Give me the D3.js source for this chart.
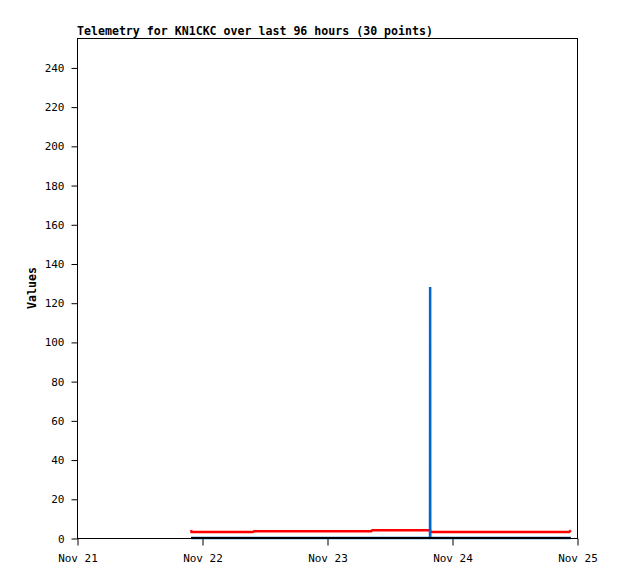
<!DOCTYPE html>
<html>
<head>
<meta charset="utf-8">
<script src="https://cdn.jsdelivr.net/npm/d3@7"></script>
<style>
  body { margin: 0; background: #fff; }
  text { font-family: "DejaVu Sans Mono", monospace; }
</style>
</head>
<body>
<script>
// sample times, hours after Nov 21 00:00 UTC
var hours = [21.9, 22.0, 25, 28, 31, 33.8, 34.0, 37, 40, 43,
             46, 49, 52, 55, 56.5, 56.7, 60, 63, 66, 67.78,
             67.8, 67.82, 71, 75, 79, 83, 87, 91, 94.5, 94.8];

// telemetry channels
var redValues = [4, 3, 3, 3, 3, 3, 3.5, 3.5, 3.5, 3.5,
                 3.5, 3.5, 3.5, 3.5, 3.5, 4, 4, 4, 4, 4,
                 3, 3, 3, 3, 3, 3, 3, 3, 3, 4];
var blueValues = [0, 0, 0, 0, 0, 0, 0, 0, 0, 0,
                  0, 0, 0, 0, 0, 0, 0, 0, 0, 0,
                  128, 0, 0, 0, 0, 0, 0, 0, 0, 0];
var blackValues = [0, 0, 0, 0, 0, 0, 0, 0, 0, 0,
                   0, 0, 0, 0, 0, 0, 0, 0, 0, 0,
                   0, 0, 0, 0, 0, 0, 0, 0, 0, 0];

var yTicks = [0, 20, 40, 60, 80, 100, 120, 140, 160, 180, 200, 220, 240];
var title = "Telemetry for KN1CKC over last 96 hours (30 points)";

var width = 618, height = 579;
var plotLeft = 77, plotRight = 577, plotTop = 38, plotBottom = 538;

var start = Date.UTC(2023, 10, 21);
var times = hours.map(function(h) { return new Date(start + h * 3600000); });

var svg = d3.select("body").append("svg")
    .attr("width", width)
    .attr("height", height);

var x = d3.scaleUtc()
    .domain([new Date(start), new Date(start + 96 * 3600000)])
    .range([plotLeft, plotRight]);

var y = d3.scaleLinear()
    .domain([0, 255])
    .range([plotBottom, plotTop]);

// frame
svg.append("rect")
    .attr("x", plotLeft + 0.5)
    .attr("y", plotTop + 0.5)
    .attr("width", plotRight - plotLeft)
    .attr("height", plotBottom - plotTop)
    .attr("fill", "none")
    .attr("stroke", "#000")
    .attr("stroke-width", 1);

var xAxis = svg.append("g")
    .attr("transform", "translate(0.5," + (plotBottom + 0.5) + ")")
    .call(d3.axisBottom(x)
        .ticks(d3.utcDay.every(1))
        .tickFormat(d3.utcFormat("%b %d"))
        .tickSize(7)
        .tickSizeOuter(0));

var yAxis = svg.append("g")
    .attr("transform", "translate(" + (plotLeft + 0.5) + ",0.5)")
    .call(d3.axisLeft(y)
        .tickValues(yTicks)
        .tickSize(6)
        .tickSizeOuter(0));

svg.selectAll(".domain").remove();
svg.selectAll(".tick line").attr("stroke", "#000");
svg.selectAll(".tick text")
    .attr("fill", "#000")
    .style("font-family", "'DejaVu Sans Mono', monospace")
    .style("font-size", "11px");
xAxis.selectAll(".tick text").attr("dy", "1.25em");
yAxis.selectAll(".tick text").attr("x", -13);

// data lines
var series = [
    {values: redValues, color: "#ff0000", w: 2.5},
    {values: blueValues, color: "#0066cc", w: 2.5},
    {values: blackValues, color: "#000000", w: 2}
];

var line = d3.line()
    .x(function(d) { return x(d[0]); })
    .y(function(d) { return y(d[1]); });

series.forEach(function(s) {
    svg.append("path")
        .datum(times.map(function(t, i) { return [t, s.values[i]]; }))
        .attr("d", line)
        .attr("fill", "none")
        .attr("stroke", s.color)
        .attr("stroke-width", s.w);
});

svg.append("text")
    .attr("x", plotLeft)
    .attr("y", 35)
    .style("font-size", "11.6px")
    .style("font-weight", "bold")
    .text(title);

svg.append("text")
    .attr("transform", "translate(36," + ((plotTop + plotBottom) / 2) + ") rotate(-90)")
    .attr("text-anchor", "middle")
    .style("font-size", "11.6px")
    .style("font-weight", "bold")
    .text("Values");
</script>
</body>
</html>
